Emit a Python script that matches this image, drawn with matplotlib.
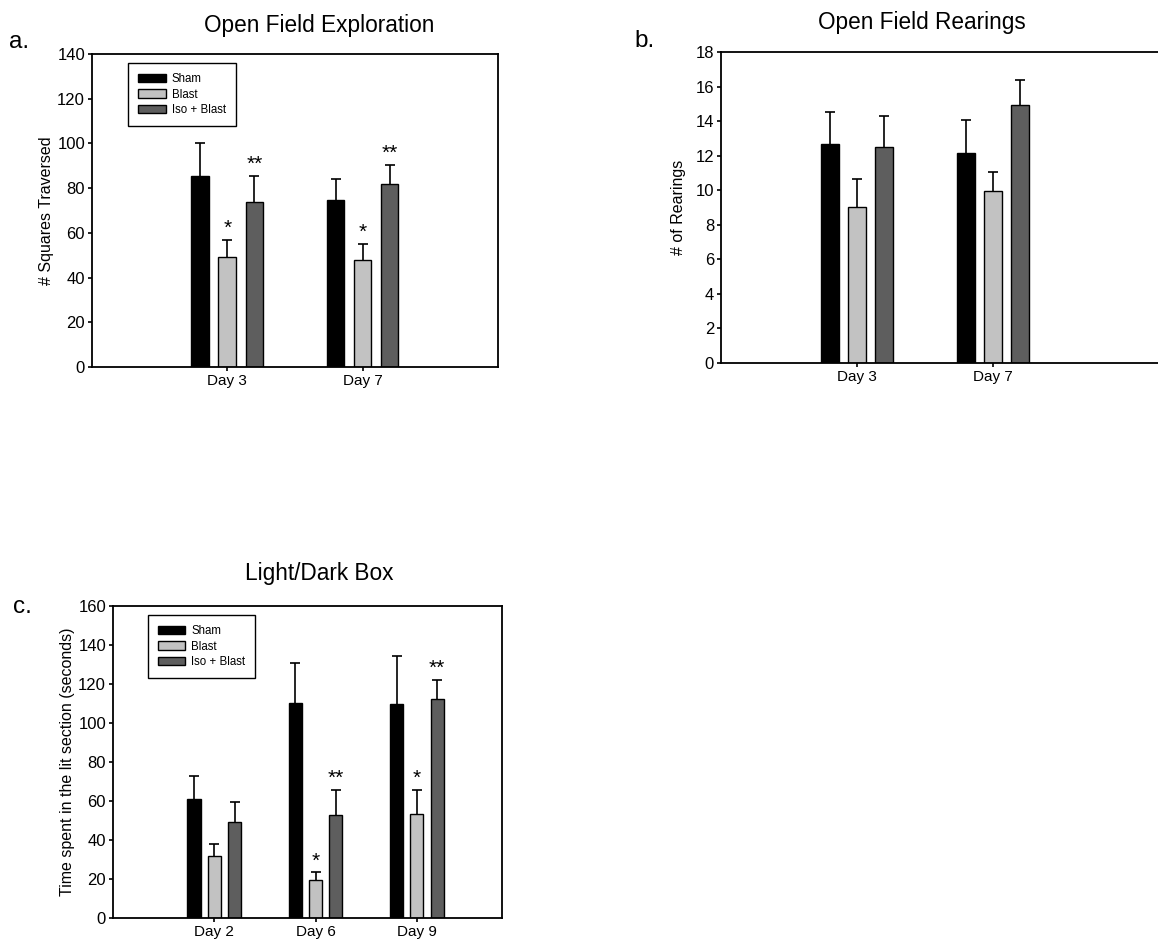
import numpy as np
import matplotlib
matplotlib.use('Agg')
import matplotlib.pyplot as plt
from matplotlib.patches import Patch

plt.rcParams['font.family'] = ['Liberation Sans', 'DejaVu Sans']

groups = ['Sham', 'Blast', 'Iso + Blast']
colors = ['#000000', '#c2c2c2', '#5e5e5e']

# a. Open Field Exploration
days_a = ['Day 3', 'Day 7']
mean_a = [[85.3, 74.8], [49.1, 48.0], [73.6, 81.8]]
sem_a = [[14.8, 9.4], [7.8, 7.0], [11.9, 8.5]]
stars_a = [['', ''], ['*', '*'], ['**', '**']]

# b. Open Field Rearings
days_b = ['Day 3', 'Day 7']
mean_b = [[12.67, 12.17], [9.03, 9.97], [12.51, 14.92]]
sem_b = [[1.85, 1.92], [1.60, 1.08], [1.79, 1.43]]
stars_b = [['', ''], ['', ''], ['', '']]

# c. Light/Dark Box
days_c = ['Day 2', 'Day 6', 'Day 9']
mean_c = [[61.1, 110.5, 109.9], [31.6, 19.3, 53.4], [49.1, 53.0, 112.4]]
sem_c = [[11.7, 20.5, 24.7], [6.3, 4.1, 12.3], [10.3, 12.7, 9.7]]
stars_c = [['', '', ''], ['', '*', '*'], ['', '**', '**']]


def bar_panel(ax, days, means, sems, stars, ymax, ystep, star_off, xmax, legend):
    x = np.arange(len(days))
    for i, g in enumerate(groups):
        xs = x + (i - 1) * 0.2
        m = np.array(means[i])
        top = m + np.array(sems[i])
        ax.bar(xs, m, width=0.13, color=colors[i], edgecolor='black',
               linewidth=1.0, zorder=2)
        # upper error bar only: stem + cap
        ax.vlines(xs, m, top, color='black', linewidth=1.2, zorder=1)
        ax.plot(xs, top, ls='none', marker='_', markersize=7.5,
                markeredgewidth=1.2, color='black', zorder=1)
        for j in range(len(days)):
            if stars[i][j]:
                ax.text(xs[j], top[j] + star_off, stars[i][j],
                        ha='center', va='bottom', fontsize=15)
    ax.set_xlim(-1, xmax)
    ax.set_ylim(0, ymax)
    ax.set_yticks(np.arange(0, ymax + 1, ystep))
    ax.set_xticks(x)
    ax.set_xticklabels(days)
    ax.tick_params(direction='out', length=3, width=1.2, pad=2)
    ax.tick_params(axis='y', labelsize=12)
    ax.tick_params(axis='x', labelsize=11)
    for s in ax.spines.values():
        s.set_linewidth(1.3)
    if legend:
        handles = [Patch(facecolor=colors[i], edgecolor='black', linewidth=1.0, label=g)
                   for i, g in enumerate(groups)]
        leg = ax.legend(handles=handles, loc='upper left', bbox_to_anchor=(0.09, 0.97),
                        fontsize=8.3, fancybox=False, framealpha=1, edgecolor='black',
                        handlelength=2.4, handleheight=0.75, borderpad=0.85,
                        labelspacing=0.3, handletextpad=0.5, borderaxespad=0)
        leg.get_frame().set_linewidth(1.0)


fig = plt.figure(figsize=(11.58, 9.43), dpi=100)

ax_a = fig.add_axes([0.0794, 0.6108, 0.3506, 0.3319])
bar_panel(ax_a, days_a, mean_a, sem_a, stars_a, 140, 20, 1.0, 2.0, True)
ax_a.set_ylabel('# Squares Traversed', fontsize=11.5, labelpad=2)

ax_b = fig.add_axes([0.6226, 0.6151, 0.411, 0.3298])
bar_panel(ax_b, days_b, mean_b, sem_b, stars_b, 18, 2, 0.1, 2.5, False)
ax_b.set_ylabel('# of Rearings', fontsize=11.5, labelpad=7)
ax_b.spines['right'].set_visible(False)

ax_c = fig.add_axes([0.0976, 0.0265, 0.3359, 0.3309])
bar_panel(ax_c, days_c, mean_c, sem_c, stars_c, 160, 20, 1.0, 2.84, True)
ax_c.set_ylabel('Time spent in the lit section (seconds)', fontsize=11.5, labelpad=2)

fig.text(0.276, 0.973, 'Open Field Exploration', ha='center', va='center', fontsize=16.3)
fig.text(0.796, 0.976, 'Open Field Rearings', ha='center', va='center', fontsize=16.3)
fig.text(0.276, 0.392, 'Light/Dark Box', ha='center', va='center', fontsize=16.3)

fig.text(0.008, 0.955, 'a.', ha='left', va='center', fontsize=17.5)
fig.text(0.548, 0.957, 'b.', ha='left', va='center', fontsize=17.5)
fig.text(0.011, 0.356, 'c.', ha='left', va='center', fontsize=17.5)

fig.savefig('out.png', dpi=100)
